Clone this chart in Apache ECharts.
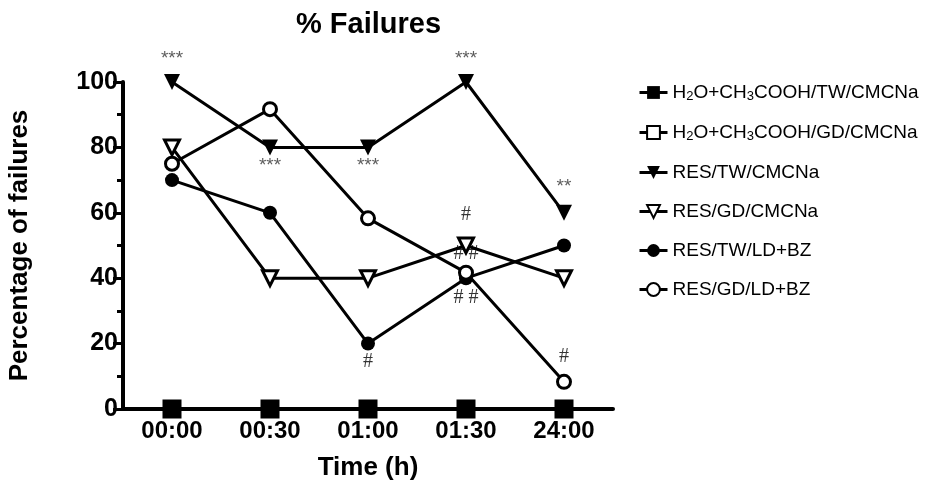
<!DOCTYPE html>
<html>
<head>
<meta charset="utf-8">
<script src="https://cdn.jsdelivr.net/npm/echarts@6/dist/echarts.min.js"></script>
<style>
html, body { margin: 0; padding: 0; background: #fff; }
#chart { width: 931px; height: 481px; }
</style>
</head>
<body>
<div id="chart"></div>
<script>
const times = ['00:00', '00:30', '01:00', '01:30', '24:00']
const yTicks = [0, 20, 40, 60, 80, 100]

const vehTwCmc = [0, 0, 0, 0, 0]
const vehGdCmc = [0, 0, 0, 0, 0]
const resTwCmc = [100, 80, 80, 100, 60]
const resGdCmc = [80, 40, 40, 50, 40]
const resTwLdbz = [70, 60, 20, 40, 50]
const resGdLdbz = [75, 91.7, 58.3, 41.7, 8.3]

// significance marks: [time, height in % units, text]
const starMarks = [
  ['00:00', 107, '***'],
  ['00:30', 74.5, '***'],
  ['01:00', 74.5, '***'],
  ['01:30', 107, '***'],
  ['24:00', 68, '**']
]
const hashMarks = [
  ['01:30', 59.5, '#'],
  ['01:30', 47.5, '# #'],
  ['01:30', 34, '# #'],
  ['01:00', 14.5, '#'],
  ['24:00', 16, '#']
]

const font = '"Liberation Sans", Arial, sans-serif'
const names = [
  'H2O+CH3COOH/TW/CMCNa',
  'H2O+CH3COOH/GD/CMCNa',
  'RES/TW/CMCNa',
  'RES/GD/CMCNa',
  'RES/TW/LD+BZ',
  'RES/GD/LD+BZ'
]

function lineSeries(name, data, symbol, filled, size, extra) {
  return Object.assign({
    name: name,
    type: 'line',
    data: data,
    symbol: symbol,
    symbolSize: size,
    showAllSymbol: true,
    clip: false,
    lineStyle: { color: '#000', width: 3 },
    itemStyle: {
      color: filled ? '#000' : '#fff',
      borderColor: '#000',
      borderWidth: filled ? 0 : 3
    },
    emphasis: { disabled: true },
    animation: false
  }, extra || {})
}

function markSeries(marks, color, size, family) {
  return {
    type: 'scatter',
    data: marks.map(m => ({ value: [m[0], m[1]], text: m[2] })),
    symbolSize: 0,
    clip: false,
    silent: true,
    animation: false,
    label: {
      show: true,
      position: 'inside',
      formatter: p => p.data.text,
      color: color,
      fontSize: size,
      fontFamily: family
    }
  }
}

const chart = echarts.init(document.getElementById('chart'))
chart.setOption({
  backgroundColor: '#fff',
  title: {
    text: '% Failures',
    left: 291,
    top: 5,
    textStyle: { fontFamily: font, fontSize: 29, fontWeight: 'bold', color: '#000' }
  },
  legend: {
    data: names,
    orient: 'vertical',
    left: 633,
    top: 78,
    itemGap: 20,
    itemWidth: 28,
    itemHeight: 16,
    lineStyle: { width: 3, color: '#000' },
    formatter: n => n.replace('H2O', 'H{sub|2}O').replace('CH3', 'CH{sub|3}'),
    textStyle: {
      fontFamily: font,
      fontSize: 19,
      color: '#000',
      rich: {
        sub: { fontFamily: font, fontSize: 13, verticalAlign: 'bottom', padding: [8, 0, 0, 0] }
      }
    }
  },
  grid: { left: 123, right: 318, top: 82, bottom: 72, outerBoundsMode: 'none' },
  xAxis: {
    type: 'category',
    data: times,
    boundaryGap: true,
    name: 'Time (h)',
    nameLocation: 'middle',
    nameGap: 46,
    nameTextStyle: { fontFamily: font, fontSize: 26, fontWeight: 'bold', color: '#000' },
    axisLine: { lineStyle: { color: '#000', width: 4 } },
    axisTick: { show: false },
    axisLabel: { fontFamily: font, fontSize: 24, fontWeight: 'bold', color: '#000', margin: 10 }
  },
  yAxis: {
    type: 'value',
    min: yTicks[0],
    max: yTicks[yTicks.length - 1],
    interval: 20,
    name: 'Percentage of failures',
    nameLocation: 'middle',
    nameGap: 90,
    nameTextStyle: { fontFamily: font, fontSize: 26, fontWeight: 'bold', color: '#000' },
    axisLine: { show: true, lineStyle: { color: '#000', width: 4 } },
    axisTick: { show: true, length: 10, lineStyle: { color: '#000', width: 3 } },
    minorTick: { show: true, splitNumber: 2, length: 6, lineStyle: { color: '#000', width: 3 } },
    splitLine: { show: false },
    axisLabel: { fontFamily: font, fontSize: 25, fontWeight: 'bold', color: '#000', margin: 5 }
  },
  series: [
    lineSeries(names[1], vehGdCmc, 'rect', false, 16),
    lineSeries(names[0], vehTwCmc, 'rect', true, 17, { z: 5 }),
    lineSeries(names[2], resTwCmc, 'triangle', true, 16, { symbolRotate: 180 }),
    lineSeries(names[3], resGdCmc, 'triangle', false, 15, { symbolRotate: 180 }),
    lineSeries(names[4], resTwLdbz, 'circle', true, 14),
    lineSeries(names[5], resGdLdbz, 'circle', false, 13),
    markSeries(starMarks, '#333', 19, font),
    markSeries(hashMarks, '#000', 20, '"Liberation Serif", "Times New Roman", serif')
  ]
})
</script>
</body>
</html>
